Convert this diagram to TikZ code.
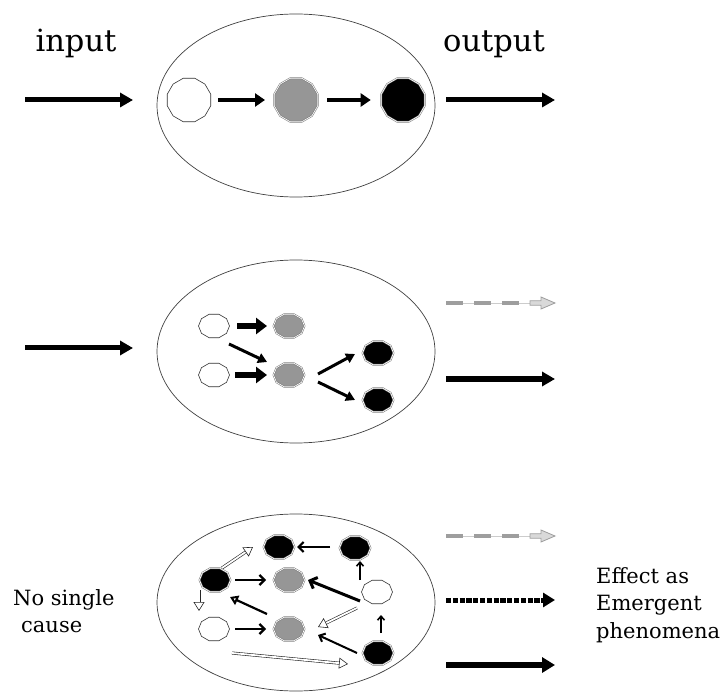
\documentclass[tikz,border=0pt]{standalone}
\usepackage{fontspec}
\setmainfont{DejaVu Serif}
\usetikzlibrary{arrows.meta,shapes.geometric,calc}
\definecolor{midgray}{RGB}{150,150,150}
\definecolor{dashgray}{RGB}{158,158,158}
\begin{document}
\begin{tikzpicture}[x=1pt,y=-1pt,
  oval/.style={draw=black!75, line width=0.7pt, ellipse, inner sep=0pt},
  bigc/.style={regular polygon, regular polygon sides=12, minimum size=45pt, inner sep=0pt, draw=black!80, line width=0.6pt},
  dotn/.style={regular polygon, regular polygon sides=10, minimum size=31pt, inner sep=0pt, yscale=0.8, draw=black!80, line width=0.6pt},
  shade/.style={draw=black!55, double=white, double distance=0.7pt, line width=0.5pt},
  bigarr/.style={line width=5pt, -{Triangle[length=13pt,width=14pt]}},
  toparr/.style={line width=4.5pt, -{Triangle[length=10pt,width=13pt]}},
  midarr/.style={line width=6pt, -{Triangle[length=11pt,width=16pt]}},
  diagarr/.style={line width=3pt, -{Triangle[length=9pt,width=10pt]}},
  barb/.style={line width=2.2pt, -{Straight Barb[length=5pt,width=10pt]}},
  thinbarb/.style={line width=1.6pt, -{Straight Barb[length=4pt,width=7pt]}},
  hollow/.style={draw=black!85, line width=0.6pt, double=white, double distance=1.8pt, -{Triangle[open,length=9pt,width=11pt]}},
  graydash/.style={dashgray, line width=4.5pt, dash pattern=on 16.5pt off 11.5pt},
  grayhead/.style={draw=dashgray, fill=gray!30, line width=0.8pt, line join=miter},
  dotarr/.style={line width=5pt, dash pattern=on 5.2pt off 1.6pt, -{Triangle[length=12pt,width=14pt]}},
  bigtxt/.style={font={\fontsize{30.5pt}{36pt}\selectfont}, inner sep=0pt, anchor=base},
  smalltxt/.style={font={\fontsize{21pt}{27.5pt}\selectfont}, inner sep=0pt, anchor=north west, align=left}
]
\useasboundingbox (0,0) rectangle (728,692);

% ---------- top section ----------
\node[oval, minimum width=278pt, minimum height=183pt] (e1) at (296,105.5) {};
\node[bigtxt] (tin) at (76,52) {input};
\node[bigtxt] (tout) at (494,52) {output};
\node[bigc, fill=white] (a1) at (189,100) {};
\node[bigc, shade, fill=midgray] (a2) at (296,100) {};
\node[bigc, shade, fill=black] (a3) at (403,100) {};
\coordinate (in1s) at (25,100); \coordinate (in1e) at (133,100);
\coordinate (out1s) at (446,100); \coordinate (out1e) at (555,100);
\draw[bigarr] (in1s) -- (in1e);
\draw[bigarr] (out1s) -- (out1e);
\draw[toparr, shorten <=7pt, shorten >=9pt] (a1) -- (a2);
\draw[toparr, shorten <=9.3pt, shorten >=10.3pt] (a2) -- (a3);

% ---------- middle section ----------
\node[oval, minimum width=278pt, minimum height=183pt] (e2) at (296,351.5) {};
\node[dotn, fill=white] (w1) at (214,326) {};
\node[dotn, fill=white] (w2) at (214,375) {};
\node[dotn, shade, fill=midgray] (g1) at (289,326) {};
\node[dotn, shade, fill=midgray] (g2) at (289,375) {};
\node[dotn, shade, fill=black] (b1) at (378,353) {};
\node[dotn, shade, fill=black] (b2) at (378,400) {};
\coordinate (in2s) at (25,348); \coordinate (in2e) at (133,348);
\draw[bigarr] (in2s) -- (in2e);
\draw[midarr] ([xshift=23pt]w1.center) -- ([xshift=-22pt]g1.center);
\draw[midarr] ([xshift=21pt]w2.center) -- ([xshift=-22pt]g2.center);
\draw[diagarr] ([shift={(15,18)}]w1.center) -- ([shift={(-22,-13)}]g2.center);
\draw[diagarr] ([shift={(29,-1)}]g2.center) -- ([shift={(-23,1)}]b1.center);
\draw[diagarr] ([shift={(29,7)}]g2.center) -- ([shift={(-23,0)}]b2.center);
% outputs
\coordinate (ga1) at (446,303); \coordinate (gb1) at (530,303);
\draw[gray!40, line width=0.7pt] (ga1) -- (gb1);
\draw[graydash] (ga1) -- (gb1);
\draw[grayhead] (gb1) ++(0,-2.2) -- ++(11,0) -- ++(0,-3.8) -- ++(14,6) -- ++(-14,6) -- ++(0,-3.8) -- ++(-11,0) -- cycle;
\coordinate (out2s) at (446,379); \coordinate (out2e) at (555,379);
\draw[bigarr] (out2s) -- (out2e);

% ---------- bottom section ----------
\node[oval, minimum width=278pt, minimum height=177pt] (e3) at (296,602.5) {};
\node[dotn, shade, fill=black] (B1) at (279,547) {};
\node[dotn, shade, fill=black] (B2) at (355,548) {};
\node[dotn, shade, fill=black] (B3) at (215,580) {};
\node[dotn, shade, fill=midgray] (G1) at (289,580) {};
\node[dotn, fill=white] (W1) at (377,592) {};
\node[dotn, fill=white] (W2) at (214,629) {};
\node[dotn, shade, fill=midgray] (G2) at (289,629) {};
\node[dotn, shade, fill=black] (B4) at (378,653) {};

\draw[hollow] ([shift={(7,-12)}]B3.center) -- ([shift={(-26,0)}]B1.center);
\draw[barb] ([shift={(-25,-1)}]B2.center) -- ([shift={(18,0)}]B1.center);
\draw[thinbarb] ([shift={(-17,-12)}]W1.center) -- ([shift={(5,13)}]B2.center);
\draw[barb] ([shift={(20,0)}]B3.center) -- ([shift={(-23,0)}]G1.center);
\draw[line width=3pt, -{Straight Barb[length=6pt,width=12pt]}] ([shift={(-17,9)}]W1.center) -- ([shift={(19,0)}]G1.center);
\draw[hollow] ([shift={(-16,10)}]B3.center) -- ([shift={(-15,-18)}]W2.center);
\draw[line width=2.2pt, -{Triangle[open,length=8pt,width=10pt]}] ([shift={(-22,-15)}]G2.center) -- ([shift={(15,17)}]B3.center);
\draw[barb] ([shift={(21,0)}]W2.center) -- ([shift={(-23,0)}]G2.center);
\draw[hollow] ([shift={(-20,16)}]W1.center) -- ([shift={(29,-2)}]G2.center);
\draw[line width=2pt, -{Straight Barb[length=5pt,width=9pt]}] ([shift={(-21,0)}]B4.center) -- ([shift={(29,6)}]G2.center);
\draw[thinbarb] ([shift={(3,-20)}]B4.center) -- ([shift={(4,23)}]W1.center);
\draw[hollow] ([shift={(18,24)}]W2.center) -- ([shift={(-30,11)}]B4.center);

% outputs
\coordinate (ga3) at (446,536); \coordinate (gb3) at (530,536);
\draw[gray!40, line width=0.7pt] (ga3) -- (gb3);
\draw[graydash] (ga3) -- (gb3);
\draw[grayhead] (gb3) ++(0,-2.2) -- ++(11,0) -- ++(0,-3.8) -- ++(14,6) -- ++(-14,6) -- ++(0,-3.8) -- ++(-11,0) -- cycle;
\coordinate (ds) at (446,600); \coordinate (de) at (555,600);
\draw[dotarr] (ds) -- (de);
\coordinate (out3s) at (446,665); \coordinate (out3e) at (555,665);
\draw[line width=5.5pt, -{Triangle[length=13pt,width=15pt]}] (out3s) -- (out3e);

\node[smalltxt] (nsc) at (13,589) {No single\\\hspace*{8pt}cause};
\node[smalltxt] (eff) at (596,567) {Effect as\\Emergent\\phenomena};
\end{tikzpicture}
\end{document}
